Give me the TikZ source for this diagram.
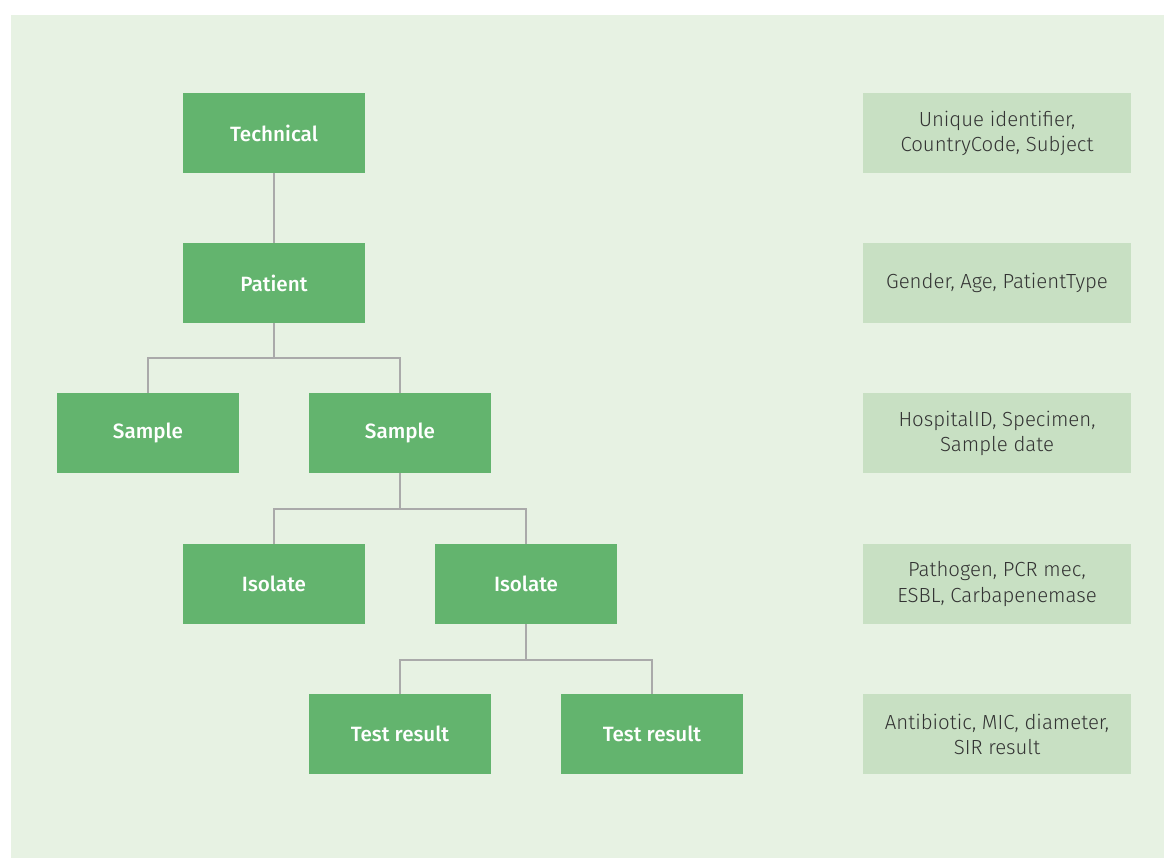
\documentclass[tikz,border=0pt]{standalone}
\usepackage{fontspec}
\setmainfont{Fira Sans}[UprightFont=* Light, BoldFont=* Medium]
\definecolor{bg}{HTML}{E7F2E3}
\definecolor{gbox}{HTML}{63B46E}
\definecolor{lbox}{HTML}{C8E0C3}
\definecolor{conn}{HTML}{AAAAAA}
\definecolor{txt}{HTML}{333333}
\tikzset{
  lvl/.style={fill=gbox, minimum width=182*0.75pt, minimum height=80*0.75pt, inner sep=0pt, text=white, font=\fontsize{15.5}{18}\selectfont\bfseries},
  info/.style={fill=lbox, minimum width=268*0.75pt, minimum height=80*0.75pt, inner sep=0pt, text=txt, align=center, font=\fontsize{15.3}{18.8}\selectfont},
  link/.style={draw=conn, line width=1.3pt}
}
\begin{document}
\begin{tikzpicture}[x=0.75pt,y=-0.75pt]
\useasboundingbox (0,0) rectangle (1164,858);
\fill[white] (0,0) rectangle (1164,858);
\fill[bg] (11,15) rectangle (1164,858);
\node[lvl] (tech) at (274,133) {Technical};
\node[lvl] (pat) at (274,283) {Patient};
\node[lvl] (s1) at (148,433) {Sample};
\node[lvl] (s2) at (400,433) {Sample};
\node[lvl] (i1) at (274,584) {Isolate};
\node[lvl] (i2) at (526,584) {Isolate};
\node[lvl] (t1) at (400,734) {Test result};
\node[lvl] (t2) at (652,734) {Test result};
\node[info] (r1) at (997,133) {Unique identifier,\\CountryCode, Subject};
\node[info] (r2) at (997,283) {Gender, Age, PatientType};
\node[info] (r3) at (997,433) {HospitalID, Specimen,\\Sample date};
\node[info] (r4) at (997,584) {Pathogen, PCR mec,\\ESBL, Carbapenemase};
\node[info] (r5) at (997,734) {Antibiotic, MIC, diameter,\\SIR result};
\draw[link] (tech.south) -- (pat.north);
\draw[link] (pat.south) -- ++(0,35) -| (s1.north);
\draw[link] (pat.south) -- ++(0,35) -| (s2.north);
\draw[link] (s2.south) -- ++(0,36) -| (i1.north);
\draw[link] (s2.south) -- ++(0,36) -| (i2.north);
\draw[link] (i2.south) -- ++(0,36) -| (t1.north);
\draw[link] (i2.south) -- ++(0,36) -| (t2.north);
\end{tikzpicture}
\end{document}
